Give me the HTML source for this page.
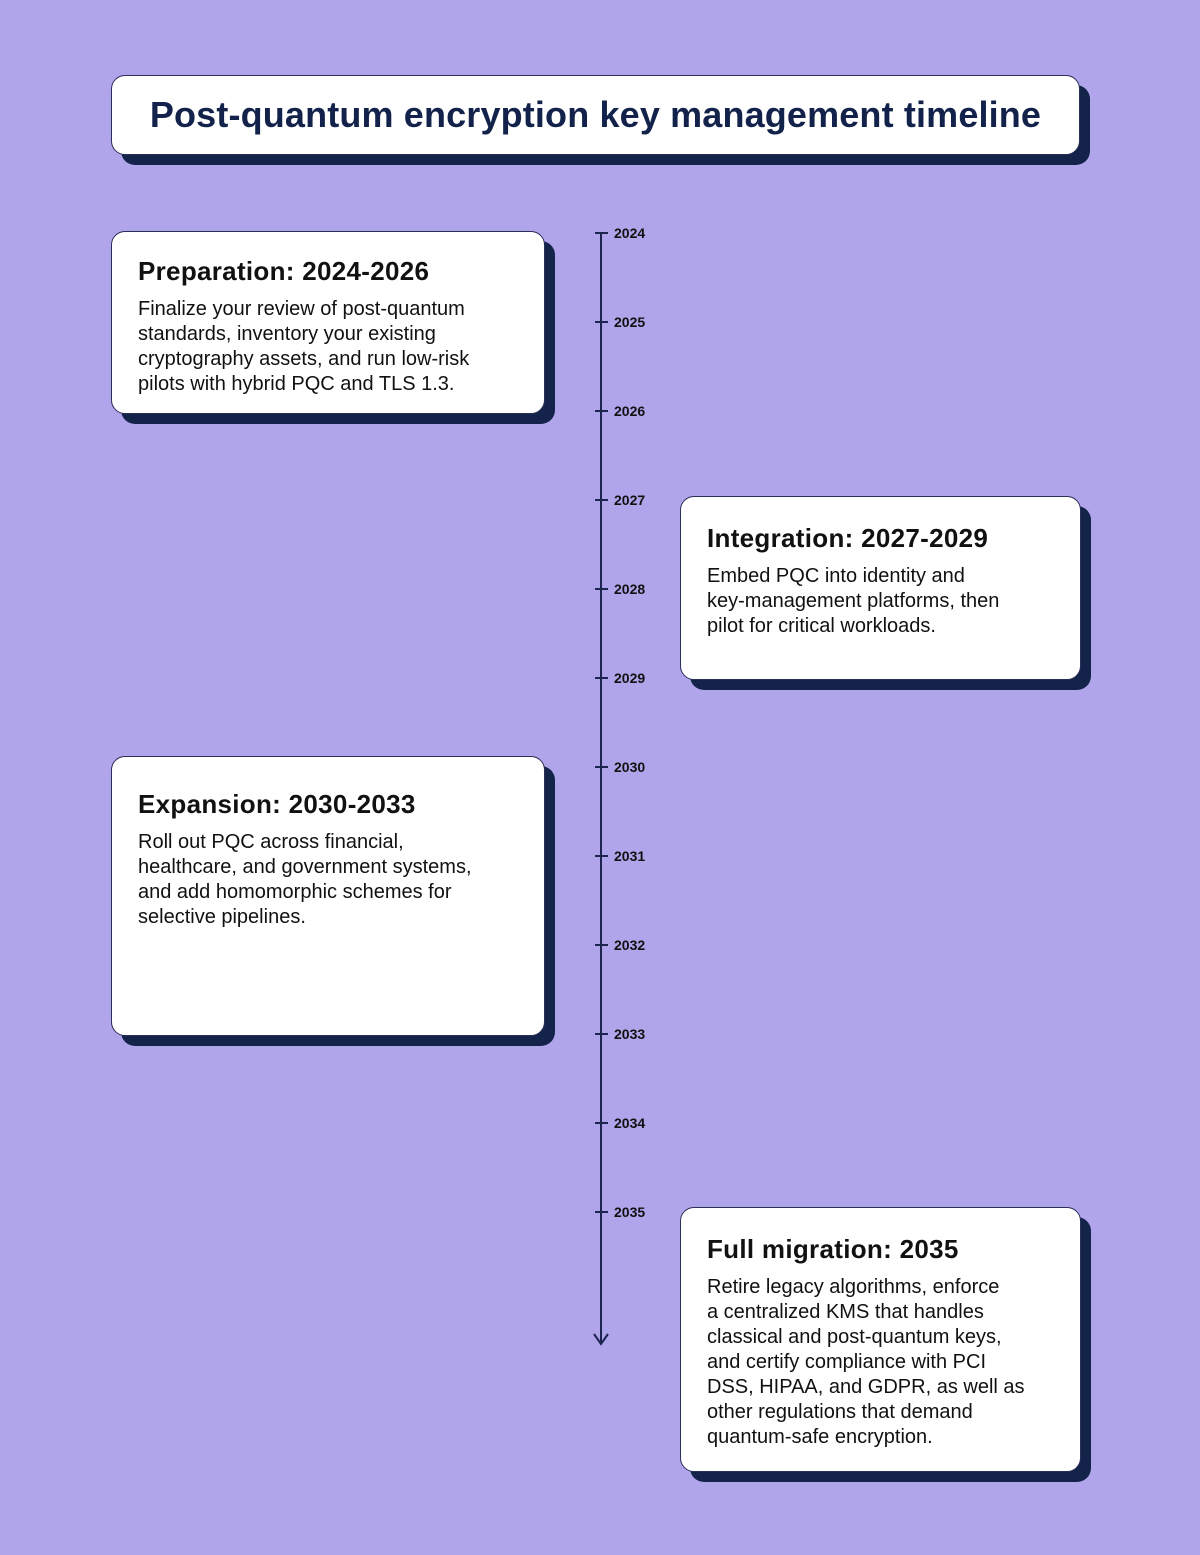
<!DOCTYPE html>
<html><head><meta charset="utf-8"><style>
*{margin:0;padding:0;box-sizing:border-box}
body{width:1200px;height:1555px;background:#b0a4ea;position:relative;overflow:hidden;font-family:"Liberation Sans",sans-serif;color:#111}
.card{position:absolute;background:#fff;border:1px solid #2a2f55;border-radius:14px;box-shadow:10px 10px 0 #13234a}
.card h2{font-size:26px;font-weight:bold;margin:26px 0 10px 26px;color:#111;letter-spacing:0.3px;white-space:nowrap}
.card p{font-size:20px;line-height:25px;margin:0 0 0 26px;color:#111;white-space:nowrap}
.title{left:111px;top:75px;width:969px;height:80px;text-align:center;font-size:36px;font-weight:bold;color:#12224a;line-height:78px;letter-spacing:0.15px}
.yr{position:absolute;left:614px;font-size:14px;font-weight:bold;color:#111}
.tk{position:absolute;left:595px;width:13px;height:2px;background:#1b2550}
</style></head><body>
<div class="card title">Post-quantum encryption key management timeline</div>
<div style="position:absolute;left:600px;top:233px;width:2px;height:1110px;background:#1b2550"></div>
<svg style="position:absolute;left:590px;top:1330px" width="24" height="20"><path d="M4 4 L11 14 L18 4" stroke="#1b2550" stroke-width="2" fill="none"/></svg>
<div class="tk" style="top:232px"></div><div class="yr" style="top:225px">2024</div>
<div class="tk" style="top:321px"></div><div class="yr" style="top:314px">2025</div>
<div class="tk" style="top:410px"></div><div class="yr" style="top:403px">2026</div>
<div class="tk" style="top:499px"></div><div class="yr" style="top:492px">2027</div>
<div class="tk" style="top:588px"></div><div class="yr" style="top:581px">2028</div>
<div class="tk" style="top:677px"></div><div class="yr" style="top:670px">2029</div>
<div class="tk" style="top:766px"></div><div class="yr" style="top:759px">2030</div>
<div class="tk" style="top:855px"></div><div class="yr" style="top:848px">2031</div>
<div class="tk" style="top:944px"></div><div class="yr" style="top:937px">2032</div>
<div class="tk" style="top:1033px"></div><div class="yr" style="top:1026px">2033</div>
<div class="tk" style="top:1122px"></div><div class="yr" style="top:1115px">2034</div>
<div class="tk" style="top:1211px"></div><div class="yr" style="top:1204px">2035</div>

<div class="card" style="left:111px;top:231px;width:434px;height:183px">
<h2 style="margin-top:24px">Preparation: 2024-2026</h2>
<p>Finalize your review of post-quantum<br>standards, inventory your existing<br>cryptography assets, and run low-risk<br>pilots with hybrid PQC and TLS 1.3.</p></div>

<div class="card" style="left:680px;top:496px;width:401px;height:184px">
<h2>Integration: 2027-2029</h2>
<p>Embed PQC into identity and<br>key-management platforms, then<br>pilot for critical workloads.</p></div>

<div class="card" style="left:111px;top:756px;width:434px;height:280px">
<h2 style="margin-top:32px">Expansion: 2030-2033</h2>
<p>Roll out PQC across financial,<br>healthcare, and government systems,<br>and add homomorphic schemes for<br>selective pipelines.</p></div>

<div class="card" style="left:680px;top:1207px;width:401px;height:265px">
<h2>Full migration: 2035</h2>
<p>Retire legacy algorithms, enforce<br>a centralized KMS that handles<br>classical and post-quantum keys,<br>and certify compliance with PCI<br>DSS, HIPAA, and GDPR, as well as<br>other regulations that demand<br>quantum-safe encryption.</p></div>
</body></html>
